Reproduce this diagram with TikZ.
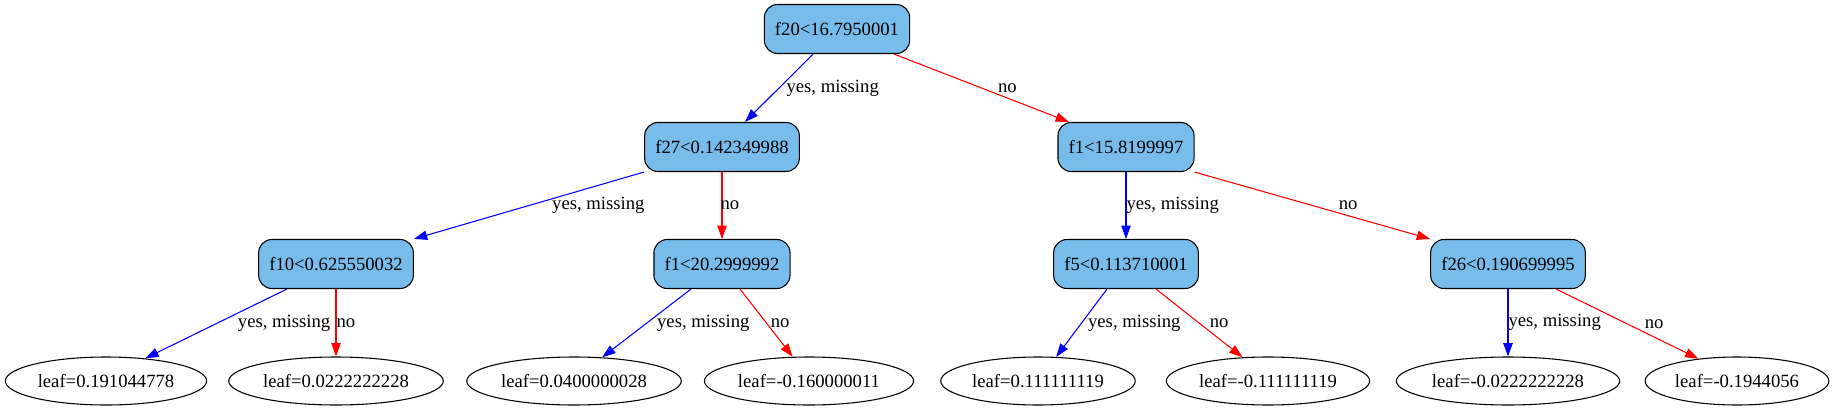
\documentclass[tikz,border=0pt]{standalone}
\usepackage{fontspec}
\setmainfont{Liberation Serif}
\usetikzlibrary{shapes.geometric, arrows.meta, calc}
\definecolor{splitblue}{HTML}{78BCEB}

\tikzset{
  split/.style={draw, fill=splitblue, rounded corners=10pt, line width=0.8pt,
    minimum height=36.75pt, inner xsep=8pt, font=\fontsize{14}{16}\selectfont},
  leaf/.style={draw, ellipse, line width=0.8pt, minimum height=36pt,
    inner xsep=2.2pt, font=\fontsize{14}{16}\selectfont},
  yes/.style={draw=blue, -{Triangle[length=10pt, width=7pt]}, blue, line width=0.8pt},
  no/.style={draw=red, -{Triangle[length=10pt, width=7pt]}, red, line width=0.8pt},
  lbl/.style={anchor=west, inner sep=0pt, text=black, font=\fontsize{14}{16}\selectfont}
}

\begin{document}
\begin{tikzpicture}[x=0.75pt, y=-0.75pt]
      \useasboundingbox (0,0) rectangle (1835,407);
      % splits
      \node[split] (f20) at (837,29) {f20<16.7950001};
      \node[split] (f27) at (722,147) {f27<0.142349988};
      \node[split] (f1a) at (1126,147) {f1<15.8199997};
      \node[split] (f10) at (336,264) {f10<0.625550032};
      \node[split] (f1b) at (722,264) {f1<20.2999992};
      \node[split] (f5) at (1126,264) {f5<0.113710001};
      \node[split] (f26) at (1508,264) {f26<0.190699995};
      % leaves
      \node[leaf] (l1) at (106,381) {leaf=0.191044778};
      \node[leaf] (l2) at (336,381) {leaf=0.0222222228};
      \node[leaf] (l3) at (574,381) {leaf=0.0400000028};
      \node[leaf] (l4) at (809,381) {leaf=-0.160000011};
      \node[leaf] (l5) at (1038,381) {leaf=0.111111119};
      \node[leaf] (l6) at (1268,381) {leaf=-0.111111119};
      \node[leaf] (l7) at (1508,381) {leaf=-0.0222222228};
      \node[leaf] (l8) at (1737,381) {leaf=-0.1944056};
      % edges
      \draw[yes] ($(f20.south)+(-24,0)$) -- node[lbl, xshift=5.25pt] {yes, missing} ($(f27.north)+(23,0)$);
      \draw[no] ($(f20.south)+(57,0)$) -- node[lbl, xshift=12pt] {no} ($(f1a.north)+(-57,0)$);
      \draw[yes] (f27.south west) -- node[lbl, xshift=17pt] {yes, missing} (f10.north east);
      \draw[no] (f27.south) -- node[lbl, xshift=-1.5pt] {no} (f1b.north);
      \draw[yes] (f1a.south) -- node[lbl] {yes, missing} (f5.north);
      \draw[no] (f1a.south east) -- node[lbl, xshift=19.5pt] {no} (f26.north west);
      \draw[yes] ($(f10.south)+(-49,0)$) -- node[lbl, xshift=16pt] {yes, missing} (l1.30);
      \draw[no] (f10.south) -- node[lbl] {no} (l2.north);
      \draw[yes] ($(f1b.south)+(-31,0)$) -- node[lbl, xshift=7.5pt] {yes, missing} (l3.40);
      \draw[no] ($(f1b.south)+(18,0)$) -- node[lbl, xshift=3pt] {no} (l4.124);
      \draw[yes] ($(f5.south)+(-19,0)$) -- node[lbl, xshift=4.5pt] {yes, missing} (l5.53);
      \draw[no] ($(f5.south)+(30,0)$) -- node[lbl, xshift=7.5pt] {no} (l6.137);
      \draw[yes] (f26.south) -- node[lbl] {yes, missing} (l7.north);
      \draw[no] ($(f26.south)+(48,0)$) -- node[lbl, xshift=12.75pt] {no} (l8.150);
\end{tikzpicture}
\end{document}
